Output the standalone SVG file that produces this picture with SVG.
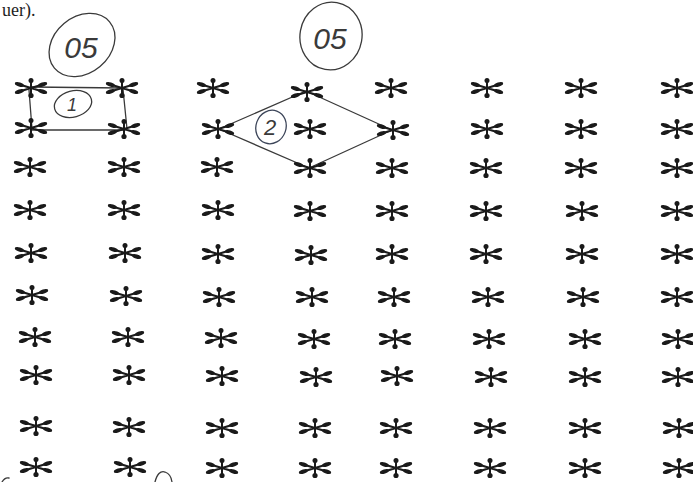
<svg xmlns="http://www.w3.org/2000/svg" xmlns:xlink="http://www.w3.org/1999/xlink" width="693" height="482" viewBox="0 0 693 482">
<style>
.ink{fill:none;stroke:#3a3a3a;stroke-width:1.3;stroke-linecap:round;stroke-linejoin:round}
.blue{fill:none;stroke:#3b4458;stroke-width:1.3}
.hand{font-family:"Liberation Sans",Arial,sans-serif;font-style:italic;fill:#3a3a3a}
</style>
<defs>
<g id="ast">
<path d="M-15,-4.5 L0,0 L-15,4.5 M15,-4.5 L0,0 L15,4.5" fill="none" stroke="#1a1a1a" stroke-width="2.3" stroke-linecap="round" stroke-linejoin="round"/>
<path d="M0,-8 L0,8" fill="none" stroke="#1a1a1a" stroke-width="2"/>
<circle cx="0" cy="-7.5" r="2.5" fill="#1a1a1a"/>
<circle cx="0" cy="7.5" r="2.6" fill="#1a1a1a"/>
<ellipse cx="-11.5" cy="-3.5" rx="4.5" ry="2.1" transform="rotate(17 -11.5 -3.5)" fill="#1a1a1a"/>
<ellipse cx="-11.5" cy="3.5" rx="4.5" ry="2.1" transform="rotate(-17 -11.5 3.5)" fill="#1a1a1a"/>
<ellipse cx="11.5" cy="-3.5" rx="4.5" ry="2.1" transform="rotate(-17 11.5 -3.5)" fill="#1a1a1a"/>
<ellipse cx="11.5" cy="3.5" rx="4.5" ry="2.1" transform="rotate(17 11.5 3.5)" fill="#1a1a1a"/>
</g>
</defs>
<rect width="693" height="482" fill="#ffffff"/>
<text x="2" y="16" font-family="Liberation Serif,'Times New Roman',serif" font-size="18" fill="#1e1e1e">uer).</text>

<g id="connectors">
<path class="ink" d="M31,87 L123,88 M29,90 L32,129 M31,130 L125,130 M123,89 L127,129"/>
<path class="ink" d="M219,129 L306,91 L392,130 L309,168 Z"/>
</g>

<g id="label-05a">
<ellipse class="ink" cx="82" cy="45" rx="36" ry="28" transform="rotate(-40 82 45)"/>
<text class="hand" x="81" y="58" font-size="30" text-anchor="middle">05</text>
</g>
<g id="label-05b">
<ellipse class="ink" cx="331" cy="36" rx="31" ry="34" transform="rotate(10 331 36)"/>
<text class="hand" x="330" y="49" font-size="30" text-anchor="middle">05</text>
</g>
<g id="label-1">
<ellipse class="ink" cx="73" cy="104" rx="19" ry="13" transform="rotate(-15 73 104)"/>
<text class="hand" x="72" y="111" font-size="18" text-anchor="middle">1</text>
</g>
<g id="label-2">
<ellipse class="blue" cx="271" cy="127" rx="15" ry="17" transform="rotate(20 271 127)"/>
<text class="hand" x="270" y="135" font-size="22" fill="#3b4458" text-anchor="middle">2</text>
</g>

<g id="r1"><use href="#ast" x="31" y="88"/><use href="#ast" x="122" y="88"/><use href="#ast" x="213" y="88"/><use href="#ast" x="307" y="92"/><use href="#ast" x="391" y="88"/><use href="#ast" x="487" y="88"/><use href="#ast" x="581" y="88"/><use href="#ast" x="677" y="88"/></g>
<g id="r2"><use href="#ast" x="31" y="128"/><use href="#ast" x="124" y="129"/><use href="#ast" x="218" y="129"/><use href="#ast" x="310" y="129"/><use href="#ast" x="393" y="130"/><use href="#ast" x="487" y="129"/><use href="#ast" x="581" y="129"/><use href="#ast" x="677" y="129"/></g>
<g id="r3"><use href="#ast" x="30" y="167"/><use href="#ast" x="124" y="167"/><use href="#ast" x="217" y="167"/><use href="#ast" x="310" y="168"/><use href="#ast" x="392" y="168"/><use href="#ast" x="486" y="168"/><use href="#ast" x="581" y="168"/><use href="#ast" x="677" y="168"/></g>
<g id="r4"><use href="#ast" x="30" y="210"/><use href="#ast" x="124" y="210"/><use href="#ast" x="218" y="210"/><use href="#ast" x="310" y="211"/><use href="#ast" x="392" y="211"/><use href="#ast" x="486" y="211"/><use href="#ast" x="582" y="211"/><use href="#ast" x="677" y="211"/></g>
<g id="r5"><use href="#ast" x="31" y="253"/><use href="#ast" x="125" y="253"/><use href="#ast" x="218" y="254"/><use href="#ast" x="311" y="255"/><use href="#ast" x="392" y="254"/><use href="#ast" x="486" y="254"/><use href="#ast" x="582" y="254"/><use href="#ast" x="677" y="254"/></g>
<g id="r6"><use href="#ast" x="32" y="295"/><use href="#ast" x="126" y="296"/><use href="#ast" x="219" y="297"/><use href="#ast" x="312" y="297"/><use href="#ast" x="394" y="297"/><use href="#ast" x="488" y="297"/><use href="#ast" x="583" y="297"/><use href="#ast" x="677" y="297"/></g>
<g id="r7"><use href="#ast" x="35" y="337"/><use href="#ast" x="128" y="337"/><use href="#ast" x="221" y="338"/><use href="#ast" x="314" y="339"/><use href="#ast" x="395" y="339"/><use href="#ast" x="489" y="339"/><use href="#ast" x="585" y="339"/><use href="#ast" x="678" y="339"/></g>
<g id="r8"><use href="#ast" x="36" y="375"/><use href="#ast" x="129" y="375"/><use href="#ast" x="222" y="376"/><use href="#ast" x="316" y="377"/><use href="#ast" x="397" y="376"/><use href="#ast" x="491" y="377"/><use href="#ast" x="585" y="377"/><use href="#ast" x="678" y="377"/></g>
<g id="r9"><use href="#ast" x="36" y="426"/><use href="#ast" x="129" y="427"/><use href="#ast" x="222" y="428"/><use href="#ast" x="315" y="428"/><use href="#ast" x="396" y="428"/><use href="#ast" x="490" y="428"/><use href="#ast" x="585" y="428"/><use href="#ast" x="679" y="428"/></g>
<g id="r10"><use href="#ast" x="36" y="467"/><use href="#ast" x="130" y="467"/><use href="#ast" x="222" y="468"/><use href="#ast" x="315" y="468"/><use href="#ast" x="396" y="468"/><use href="#ast" x="490" y="468"/><use href="#ast" x="585" y="468"/><use href="#ast" x="679" y="468"/></g>

<path class="ink" d="M155,482 Q158,470 165,472 Q171,474 172,482"/>
<path class="ink" d="M2,482 Q5,477 9,478"/>
</svg>
